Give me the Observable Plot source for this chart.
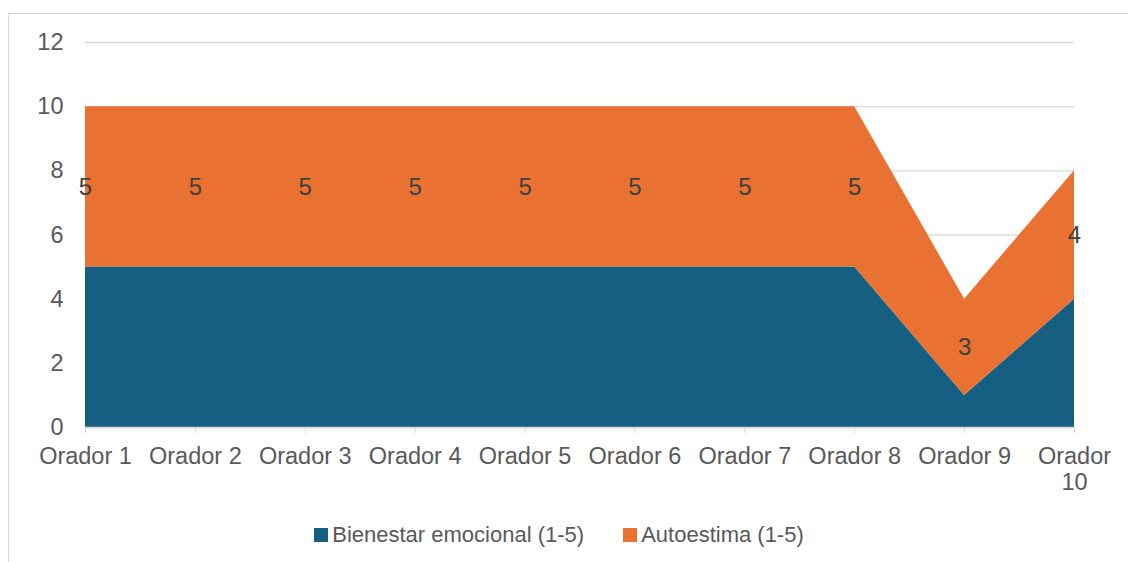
<!DOCTYPE html>
<html>
<head>
<meta charset="utf-8">
<script src="https://cdn.jsdelivr.net/npm/d3@7"></script>
<script src="https://cdn.jsdelivr.net/npm/@observablehq/plot@0.6"></script>
<style>
  body { margin: 0; background: #fff; font-family: "Liberation Sans", Arial, sans-serif; }
  #frame { position: absolute; left: 8px; top: 13px; width: 1300px; height: 700px; border: 1px solid #d9d9d9; }
  #chart { position: absolute; left: 0; top: 0; }
  #legend { position: absolute; left: -5px; width: 1128px; top: 522px; display: flex; justify-content: center; gap: 39px; font-size: 22px; color: #595959; }
  .item { display: flex; align-items: center; gap: 4px; }
  .sw { width: 14px; height: 14px; display: inline-block; }
</style>
</head>
<body>
<div id="frame"></div>
<div id="chart"></div>
<div id="legend"></div>
<script>
const categories = ["Orador 1", "Orador 2", "Orador 3", "Orador 4", "Orador 5", "Orador 6", "Orador 7", "Orador 8", "Orador 9", "Orador 10"];
const tickLabels = ["Orador 1", "Orador 2", "Orador 3", "Orador 4", "Orador 5", "Orador 6", "Orador 7", "Orador 8", "Orador 9", "Orador\n10"];
const bienestar = [5, 5, 5, 5, 5, 5, 5, 5, 1, 4];
const autoestima = [5, 5, 5, 5, 5, 5, 5, 5, 3, 4];
const seriesNames = ["Bienestar emocional (1-5)", "Autoestima (1-5)"];
const seriesColors = ["#156082", "#E97132"];
const yTicks = [0, 2, 4, 6, 8, 10, 12];

const long = categories.flatMap((c, i) => [
  {cat: c, series: seriesNames[0], value: bienestar[i]},
  {cat: c, series: seriesNames[1], value: autoestima[i]}
]);

const chart = Plot.plot({
  width: 1128,
  height: 505,
  marginLeft: 85,
  marginRight: 54,
  marginTop: 42,
  marginBottom: 78,
  style: {fontFamily: "'Liberation Sans', Arial, sans-serif", fontSize: "23.5px", color: "#595959", background: "transparent"},
  x: {type: "point", domain: categories, padding: 0, round: false, label: null},
  y: {domain: [0, 12], label: null},
  color: {domain: seriesNames, range: seriesColors},
  marks: [
    Plot.ruleY(yTicks, {stroke: "#d9d9d9", strokeWidth: 1.3}),
    Plot.areaY(long, {x: "cat", y: "value", z: "series", fill: "series", order: seriesNames}),
    Plot.ruleY([0], {stroke: "#d9d9d9", strokeWidth: 1.3}),
    Plot.axisY({ticks: yTicks, tickSize: 0, tickPadding: 22, color: "#595959", fontSize: 23.5}),
    Plot.axisX({tickSize: 6, tickFormat: () => "", color: "#d9d9d9"}),
    Plot.axisX({tickSize: 0, tickPadding: 18, color: "#595959", fontSize: 23.5, lineHeight: 1.1,
      tickFormat: d => tickLabels[categories.indexOf(d)]}),
    Plot.text(long, Plot.stackY({x: "cat", y: "value", z: "series", order: seriesNames,
      text: d => d.series === seriesNames[1] ? String(d.value) : "",
      fill: "#404040", fontSize: 24}))
  ]
});
document.getElementById("chart").appendChild(chart);

const legend = document.getElementById("legend");
seriesNames.forEach((name, i) => {
  const it = document.createElement("div");
  it.className = "item";
  const sw = document.createElement("span");
  sw.className = "sw";
  sw.style.background = seriesColors[i];
  const tx = document.createElement("span");
  tx.textContent = name;
  it.appendChild(sw);
  it.appendChild(tx);
  legend.appendChild(it);
});
</script>
</body>
</html>
